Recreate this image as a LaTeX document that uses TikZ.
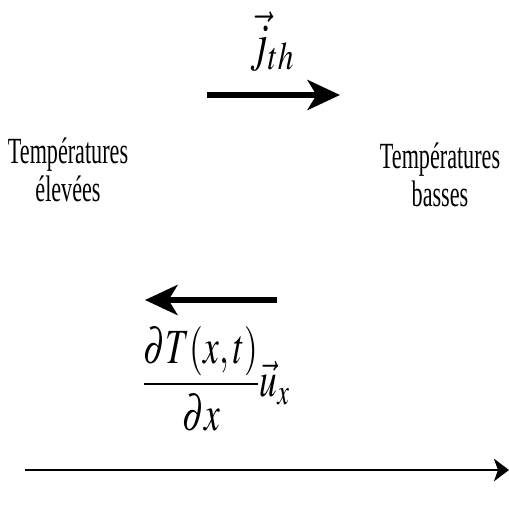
\documentclass[tikz,border=0pt]{standalone}
\usepackage{amsmath}
\usepackage{mathptmx}
\usepackage{fontspec}
\setmainfont{Liberation Serif}
\usepackage{graphicx}
\usetikzlibrary{arrows.meta}
\newcommand{\narrowtext}[2][0.6]{\scalebox{#1}[1]{#2}}
\tikzset{
  fluxarrow/.style={line width=3.4pt, -{Stealth[length=0.65cm,width=0.6cm,inset=0.18cm]}},
  label/.style={align=center, font=\fontsize{21}{22}\selectfont, inner sep=0pt}
}

\begin{document}
\begin{tikzpicture}[x=0.02cm,y=0.02cm]
\useasboundingbox (0,0) rectangle (509,504);
% Heat flux, from hot to cold
\coordinate (fluxstart) at (207,409);
\coordinate (fluxend) at (340,409);
\draw[fluxarrow] (fluxstart) -- (fluxend);
\node[label, font=\fontsize{30}{32}\selectfont] (jth) at (272,462) {\narrowtext[0.8]{$\vec{j}_{th}$}};

% The two sides
\node[label] (hot) at (68,334) {\narrowtext{Températures}\\\narrowtext{élevées}};
\node[label] (cold) at (440,329) {\narrowtext{Températures}\\\narrowtext{basses}};

% Temperature gradient
\coordinate (gradstart) at (277,204);
\coordinate (gradend) at (145,204);
\draw[fluxarrow] (gradstart) -- (gradend);
\node[label, font=\fontsize{28}{30}\selectfont] (grad) at (216,125) {\narrowtext[0.72]{$\dfrac{\partial T(x,t)}{\partial x}\vec{u}_x$}};

% x axis
\coordinate (axstart) at (25,34);
\coordinate (axend) at (509,34);
\draw[line width=1.4pt, -{Stealth[length=0.3cm,width=0.45cm,inset=0.08cm]}] (axstart) -- (axend);
\end{tikzpicture}
\end{document}
